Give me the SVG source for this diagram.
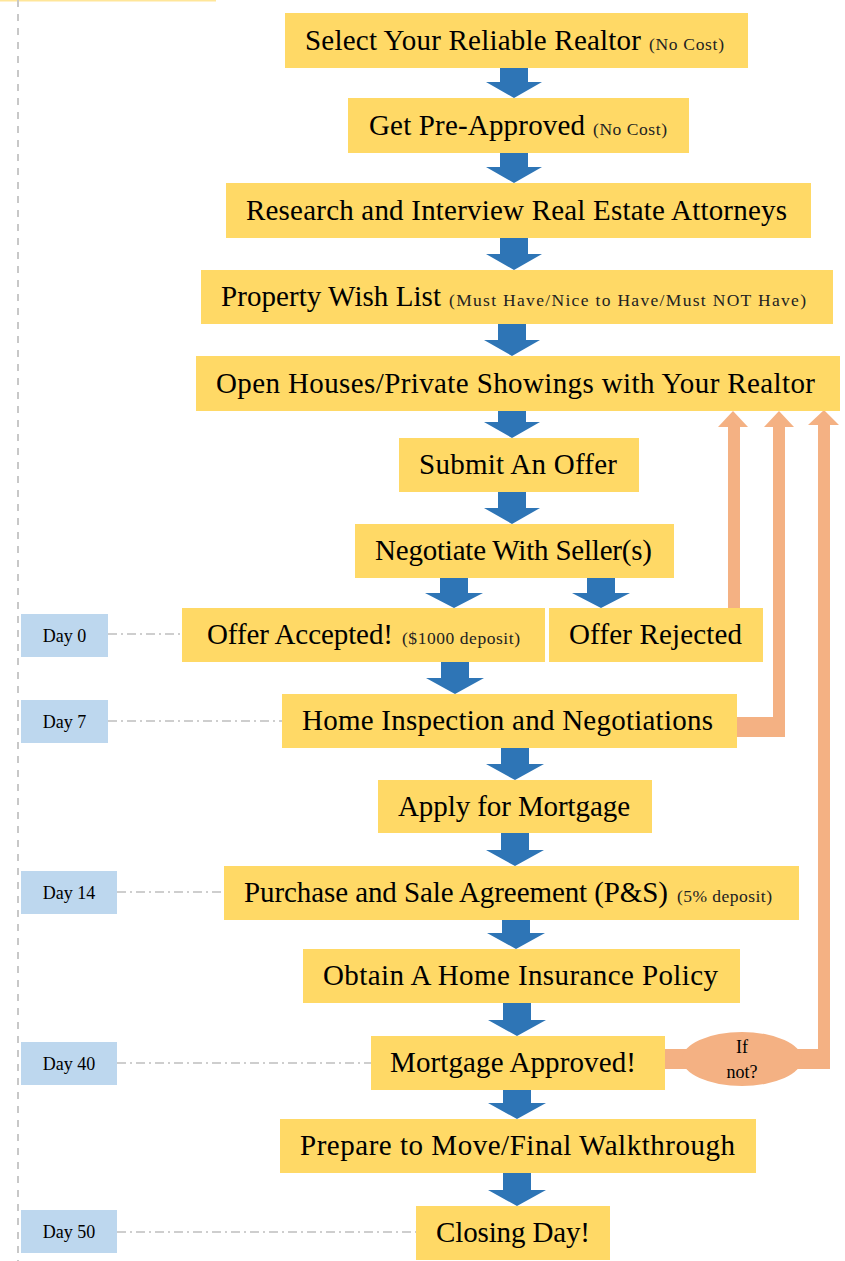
<svg xmlns="http://www.w3.org/2000/svg" width="845" height="1261" viewBox="0 0 845 1261">
<style>
.box{fill:#FFD966}
.day{fill:#BDD7EE}
.t{font-family:"Liberation Serif","Times New Roman",serif;font-size:29px;fill:#000}
.s{font-family:"Liberation Serif","Times New Roman",serif;font-size:17.5px;fill:#222}
.d{font-family:"Liberation Serif","Times New Roman",serif;font-size:18px;fill:#000;text-anchor:middle}
.ba{fill:#2E75B6}
.oa{fill:#F4B183}
.dd{stroke:#BFBFBF;stroke-width:1.5;stroke-dasharray:9 4 2 4;fill:none}
</style>
<rect x="0" y="0" width="216" height="1.5" fill="#FFE699"/>
<line x1="18" y1="0" x2="18" y2="1261" stroke="#C8C8C8" stroke-width="2" stroke-dasharray="7 7"/>

<g id="connectors">
<path class="ba" d="M500,67H528V82H542L514,98L486,82H500Z"/>
<path class="ba" d="M500,153H528V167H542L514,183L486,167H500Z"/>
<path class="ba" d="M500,238H528V254H542L514,270L486,254H500Z"/>
<path class="ba" d="M498,324H526V340H540L512,356L484,340H498Z"/>
<path class="ba" d="M498,411H526V422H540L512,438L484,422H498Z"/>
<path class="ba" d="M498,492H526V508H540L512,524L484,508H498Z"/>
<path class="ba" d="M440,577H468V593H483L454,608L425,593H440Z"/>
<path class="ba" d="M587,577H615V593H630L601,608L572,593H587Z"/>
<path class="ba" d="M441,662H469V678H484L455,694L426,678H441Z"/>
<path class="ba" d="M501,748H529V764H544L515,780L486,764H501Z"/>
<path class="ba" d="M501,833H529V850H544L515,866L486,850H501Z"/>
<path class="ba" d="M502,920H530V933H545L516,949L487,933H502Z"/>
<path class="ba" d="M503,1003H531V1020H546L517,1036L488,1020H503Z"/>
<path class="ba" d="M503,1090H531V1103H546L517,1119L488,1103H503Z"/>
<path class="ba" d="M503,1173H531V1190H546L517,1206L488,1190H503Z"/>

<path class="oa" d="M728,608V427H718L733,411L748,427H740V608Z"/>
<path class="oa" d="M737,717H773V427H764L779,411L794,427H785V737H737Z"/>
<path class="oa" d="M665,1049H700V1069H665Z"/>
<path class="oa" d="M790,1049H818V425H808L824,410L839,425H830V1069H790Z"/>

<line class="dd" x1="108" y1="634" x2="182" y2="634"/>
<line class="dd" x1="108" y1="721" x2="282" y2="721"/>
<line class="dd" x1="117" y1="892" x2="224" y2="892"/>
<line class="dd" x1="117" y1="1063" x2="371" y2="1063"/>
<line class="dd" x1="117" y1="1232" x2="416" y2="1232"/>
</g>

<g id="n1"><rect class="box" x="285" y="13" width="463" height="55"/>
<text class="t" x="305" y="50" textLength="336">Select Your Reliable Realtor</text>
<text class="s" x="649" y="50" textLength="75">(No Cost)</text></g>

<g id="n2"><rect class="box" x="348" y="98" width="341" height="55"/>
<text class="t" x="369" y="135" textLength="216">Get Pre-Approved</text>
<text class="s" x="593" y="135" textLength="74">(No Cost)</text></g>

<g id="n3"><rect class="box" x="226" y="183" width="585" height="55"/>
<text class="t" x="246" y="220" textLength="541">Research and Interview Real Estate Attorneys</text></g>

<g id="n4"><rect class="box" x="201" y="270" width="632" height="54"/>
<text class="t" x="221" y="306" textLength="220">Property Wish List</text>
<text class="s" x="449" y="306" textLength="357">(Must Have/Nice to Have/Must NOT Have)</text></g>

<g id="n5"><rect class="box" x="196" y="356" width="644" height="55"/>
<text class="t" x="216" y="393" textLength="599">Open Houses/Private Showings with Your Realtor</text></g>

<g id="n6"><rect class="box" x="399" y="438" width="240" height="54"/>
<text class="t" x="419" y="474" textLength="198">Submit An Offer</text></g>

<g id="n7"><rect class="box" x="355" y="524" width="319" height="54"/>
<text class="t" x="375" y="560" textLength="277">Negotiate With Seller(s)</text></g>

<g id="n8"><rect class="box" x="182" y="608" width="363" height="54"/>
<text class="t" x="207" y="644" textLength="186">Offer Accepted!</text>
<text class="s" x="402" y="644" textLength="118">($1000 deposit)</text></g>

<g id="n9"><rect class="box" x="549" y="608" width="214" height="54"/>
<text class="t" x="569" y="644" textLength="173">Offer Rejected</text></g>

<g id="n10"><rect class="box" x="282" y="694" width="455" height="54"/>
<text class="t" x="302" y="730" textLength="411">Home Inspection and Negotiations</text></g>

<g id="n11"><rect class="box" x="378" y="780" width="274" height="53"/>
<text class="t" x="398" y="816" textLength="232">Apply for Mortgage</text></g>

<g id="n12"><rect class="box" x="224" y="866" width="575" height="54"/>
<text class="t" x="244" y="902" textLength="424">Purchase and Sale Agreement (P&amp;S)</text>
<text class="s" x="677" y="902" textLength="95">(5% deposit)</text></g>

<g id="n13"><rect class="box" x="303" y="949" width="437" height="54"/>
<text class="t" x="323" y="985" textLength="395">Obtain A Home Insurance Policy</text></g>

<g id="n14"><rect class="box" x="371" y="1036" width="294" height="54"/>
<text class="t" x="390" y="1072" textLength="246">Mortgage Approved!</text></g>

<g id="n15"><rect class="box" x="280" y="1119" width="476" height="54"/>
<text class="t" x="300" y="1155" textLength="435">Prepare to Move/Final Walkthrough</text></g>

<g id="n16"><rect class="box" x="416" y="1206" width="194" height="54"/>
<text class="t" x="436" y="1242" textLength="154">Closing Day!</text></g>

<g id="ifnot"><ellipse class="oa" cx="742" cy="1059" rx="60" ry="27"/>
<text class="d" x="742" y="1053">If</text>
<text class="d" x="742" y="1078">not?</text></g>

<g id="day0"><rect class="day" x="21" y="614" width="87" height="43"/><text class="d" x="64.5" y="642">Day 0</text></g>
<g id="day7"><rect class="day" x="21" y="700" width="87" height="43"/><text class="d" x="64.5" y="728">Day 7</text></g>
<g id="day14"><rect class="day" x="21" y="871" width="96" height="43"/><text class="d" x="69" y="899">Day 14</text></g>
<g id="day40"><rect class="day" x="21" y="1042" width="96" height="43"/><text class="d" x="69" y="1070">Day 40</text></g>
<g id="day50"><rect class="day" x="21" y="1210" width="96" height="43"/><text class="d" x="69" y="1238">Day 50</text></g>
</svg>
